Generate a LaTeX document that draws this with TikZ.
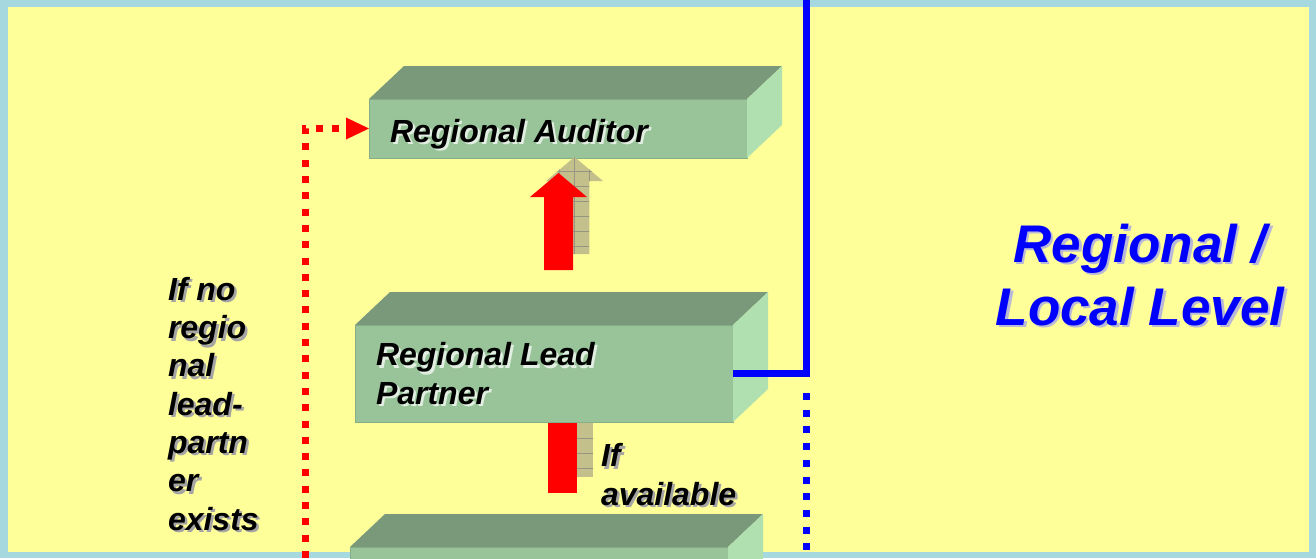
\documentclass[tikz,border=0pt]{standalone}
\usepackage{fontspec}
\setmainfont{Liberation Sans}
\usetikzlibrary{calc}
\definecolor{bgc}{RGB}{166,216,224}
\definecolor{yel}{RGB}{255,255,153}
\definecolor{frontc}{RGB}{153,196,153}
\definecolor{topc}{RGB}{122,153,122}
\definecolor{sidec}{RGB}{176,224,176}
\definecolor{edgec}{RGB}{135,175,135}
\definecolor{khaki}{RGB}{196,192,140}
\definecolor{gridc}{RGB}{150,150,130}
\definecolor{bluec}{RGB}{0,0,255}
\definecolor{shgray}{RGB}{165,165,165}
\definecolor{shlight}{RGB}{225,238,225}
\definecolor{shblue}{RGB}{185,185,215}
\newcommand\cuboid[2]{% #1 node name, #2 depth x
  \fill[topc] (#1.north west) -- ++(#2,-33) -- ($(#1.north east)+(#2,-33)$) -- (#1.north east) -- cycle;
  \fill[sidec] (#1.north east) -- ++(#2,-33) -- ($(#1.south east)+(#2,-33)$) -- (#1.south east) -- cycle;
}
\newcommand\shtxt[5]{% #1 name, #2 position, #3 style, #4 shadow colour, #5 text
  \node[#3,text=#4] (#1s) at ([shift={(2.5,2.5)}]#2) {#5};
  \node[#3] (#1) at (#2) {#5};
}
\begin{document}
\begin{tikzpicture}[x=1pt,y=-1pt,
  front/.style={fill=frontc, draw=edgec, line width=1pt, inner sep=0pt, outer sep=0pt,
    anchor=north west, minimum width=378pt},
  lbl/.style={inner sep=0pt, outer sep=0pt, font=\fontsize{32}{38.3}\selectfont\bfseries\itshape,
    align=left, anchor=base west},
  big/.style={inner sep=0pt, outer sep=0pt, font=\fontsize{53}{63}\selectfont\bfseries\itshape,
    align=center, anchor=base, text=bluec},
  reddots/.style={red, line width=7pt, dash pattern=on 7pt off 9.3pt},
  bluedots/.style={bluec, line width=7pt, dash pattern=on 7pt off 9.7pt},
  blueline/.style={bluec, line width=7pt},
  shadowarrow/.style={fill=khaki},
  gridline/.style={gridc, line width=0.8pt},
]
\useasboundingbox (0,0) rectangle (1316,558);
\clip (0,0) rectangle (1316,558);
\fill[bgc] (0,0) rectangle (1316,558);
\fill[yel] (8,7) rectangle (1309,552);

% boxes
\node[front, minimum height=59pt] (auditor) at (369,99) {};
\cuboid{auditor}{35}
\node[front, minimum height=97pt] (lead) at (355,325) {};
\cuboid{lead}{35}
\node[front, minimum height=70pt] (bottom) at (350,547) {};
\cuboid{bottom}{35}

% arrow from lead partner to auditor (shadow + red)
\begin{scope}
  \path[shadowarrow] (560,254) -- (560,181) -- (546,181) -- (574.5,157) -- (603,181)
    -- (589,181) -- (589,254) -- cycle;
  \clip (560,254) -- (560,181) -- (546,181) -- (574.5,157) -- (603,181)
    -- (589,181) -- (589,254) -- cycle;
  \foreach \yy in {171,186,...,246} \draw[gridline] (540,\yy) -- (610,\yy);
  \foreach \xx in {559,574,589} \draw[gridline] (\xx,150) -- (\xx,260);
\end{scope}
\fill[red] (544,270) -- (544,197) -- (530,197) -- (558.5,173) -- (587,197)
  -- (573,197) -- (573,270) -- cycle;

% arrow from bottom box to lead partner
\begin{scope}
  \fill[khaki] (564,423) rectangle (593,477);
  \clip (564,423) rectangle (593,477);
  \foreach \yy in {438,453,468} \draw[gridline] (560,\yy) -- (600,\yy);
\end{scope}
\fill[red] (548,423) rectangle (577,493);

% red dotted connector
\coordinate (redbottom) at (305,570);
\coordinate (redhead) at ($(auditor.west)+(-23,0)$);
\draw[reddots] ($(redhead)+(-7,0)$) -| (redbottom);
\fill[red] (auditor.west) -- ($(auditor.west)+(-23,-11)$) -- ($(auditor.west)+(-23,11)$) -- cycle;

% blue level line
\coordinate (bluetop) at (806,-5);
\coordinate (bluecorner) at (806,373.5);
\coordinate (bluedot) at (806,393);
\coordinate (bluebottom) at (806,570);
\draw[blueline, line join=miter] (bluetop) -- (bluecorner) -- (lead.east);
\draw[bluedots] (bluedot) -- (bluebottom);

% texts (base anchor = baseline of the last line)
\shtxt{audtxt}{390,142}{lbl}{shlight}{Regional Auditor}
\shtxt{leadtxt}{376,404}{lbl}{shlight}{Regional Lead\\Partner}
\shtxt{noleadtxt}{168,530}{lbl}{shgray}{If no\\regio\\nal\\lead-\\partn\\er\\exists}
\shtxt{availtxt}{601,505}{lbl}{shgray}{If\\available}
\shtxt{leveltxt}{1140,325}{big}{shblue}{Regional /\\Local Level}
\end{tikzpicture}
\end{document}
